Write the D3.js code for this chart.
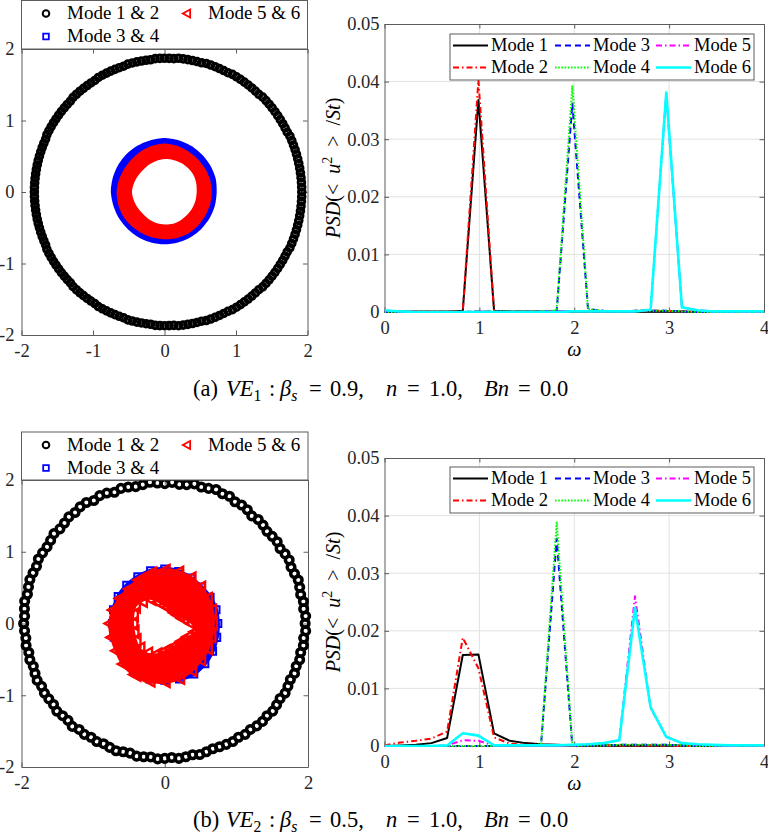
<!DOCTYPE html>
<html>
<head>
<meta charset="utf-8">
<script src="https://cdn.jsdelivr.net/npm/d3@7"></script>
<style>
    body { margin: 0; background: #fff; }
</style>
</head>
<body>
<svg id="fig" width="768" height="837" font-family="'Liberation Serif', 'Times New Roman', serif"></svg>
<script>
// ---- PSD data: omega grid and the six modes, panel (a) and (b)
const omega = [0, 0.165, 0.33, 0.495, 0.66, 0.825, 0.99, 1.155, 1.32, 1.485, 1.65, 1.815, 1.98,
    2.145, 2.31, 2.475, 2.64, 2.805, 2.97, 3.135, 3.3, 3.465, 3.63, 3.795, 3.96, 4.125];

const mode1a = [0.0001,0.0001,0.0001,0.0001,0.0001,0.0002,0.0368,0.0002,0.0001,0.0001,0.0001,0.0001,0.0001,0.0001,0.0001,0.0001,0.0001,0.0001,0.0001,0.0001,0,0,0,0,0,0];
const mode2a = [0.0001,0.0001,0.0001,0.0001,0.0001,0.0001,0.0403,0.0001,0.0001,0.0001,0.0001,0.0001,0.0001,0.0001,0.0001,0.0001,0.0002,0.0002,0.0002,0.0001,0,0,0,0,0,0];
const mode3a = [0,0,0,0,0,0,0.0001,0.0001,0.0001,0.0001,0.0001,0.0002,0.0362,0.0005,0.0002,0.0001,0.0002,0.0002,0.0002,0.0001,0,0,0,0,0,0];
const mode4a = [0,0,0,0,0,0,0.0001,0.0001,0.0001,0.0001,0.0001,0.0003,0.0392,0.0005,0.0002,0.0001,0.0002,0.0002,0.0002,0.0001,0,0,0,0,0,0];
const mode5a = [0.0002,0.0001,0,0,0,0,0.0001,0,0,0,0,0.0001,0.0002,0.0001,0.0001,0.0001,0.0001,0.0003,0.0378,0.0008,0.0003,0.0001,0.0001,0,0,0];
const mode6a = [0.0003,0.0001,0,0,0,0,0,0,0,0,0,0,0.0001,0.0001,0.0001,0.0001,0.0001,0.0004,0.0381,0.0008,0.0003,0.0001,0.0001,0.0001,0.0001,0.0001];

const mode1b = [0,0.0001,0.0002,0.0005,0.0014,0.0158,0.0159,0.0022,0.0009,0.0005,0.0003,0.0002,0.0001,0.0001,0.0001,0.0001,0.0001,0.0001,0.0001,0.0001,0,0,0,0,0,0];
const mode2b = [0.0001,0.0006,0.0009,0.0013,0.0025,0.0188,0.0135,0.0015,0.0004,0.0002,0.0002,0.0001,0.0001,0.0001,0.0001,0.0001,0.0001,0.0001,0.0001,0,0,0,0,0,0,0];
const mode3b = [0,0,0,0,0,0,0,0,0,0,0.0002,0.0360,0,0.0001,0.0001,0.0002,0.0002,0.0002,0.0002,0.0001,0,0,0,0,0,0];
const mode4b = [0,0,0,0,0,0,0,0,0,0,0.0003,0.0388,0,0.0001,0.0001,0.0002,0.0002,0.0002,0.0002,0.0001,0,0,0,0,0,0];
const mode5b = [0,0,0,0,0.0001,0.0010,0.0009,0.0001,0,0,0,0,0.0001,0.0003,0.0005,0.0010,0.0260,0.0066,0.0016,0.0005,0.0002,0.0001,0,0,0,0];
const mode6b = [0,0,0,0,0.0001,0.0022,0.0018,0.0001,0.0001,0.0001,0.0001,0.0001,0.0002,0.0003,0.0005,0.0010,0.0240,0.0067,0.0016,0.0005,0.0003,0.0002,0.0001,0.0001,0.0001,0.0001];

const modeNames = ['Mode 1', 'Mode 2', 'Mode 3', 'Mode 4', 'Mode 5', 'Mode 6'];
const pairNames = ['Mode 1 & 2', 'Mode 3 & 4', 'Mode 5 & 6'];

// ---- phase portraits: Mode 1 & 2 samples (phase in degrees, amplitude)
const ringPhaseA = [
    0,2,4,6,8,10,12,14,16,18,20,22,24,26,28,30,32,34,36,38,
    40,42,44,46,48,50,52,54,56,58,60,62,64,66,68,70,72,74,76,78,
    80,82,84,86,88,90,92,94,96,98,100,102,104,106,108,110,112,114,116,118,
    120,122,124,126,128,130,132,134,136,138,140,142,144,146,148,150,152,154,156,158,
    160,162,164,166,168,170,172,174,176,178,180,182,184,186,188,190,192,194,196,198,
    200,202,204,206,208,210,212,214,216,218,220,222,224,226,228,230,232,234,236,238,
    240,242,244,246,248,250,252,254,256,258,260,262,264,266,268,270,272,274,276,278,
    280,282,284,286,288,290,292,294,296,298,300,302,304,306,308,310,312,314,316,318,
    320,322,324,326,328,330,332,334,336,338,340,342,344,346,348,350,352,354,356,358];
const ringAmpA = [
    1.92,1.92,1.92,1.92,1.92,1.92,1.92,1.92,1.92,1.92,1.92,1.92,1.92,1.91,1.91,1.91,1.91,1.91,1.91,1.91,
    1.91,1.91,1.91,1.90,1.90,1.90,1.90,1.90,1.90,1.90,1.90,1.89,1.89,1.89,1.89,1.89,1.89,1.88,1.88,1.88,
    1.88,1.88,1.88,1.87,1.87,1.87,1.87,1.87,1.86,1.86,1.86,1.86,1.86,1.86,1.85,1.85,1.85,1.85,1.85,1.85,
    1.85,1.84,1.84,1.84,1.84,1.84,1.84,1.84,1.83,1.83,1.83,1.83,1.83,1.83,1.83,1.83,1.83,1.83,1.82,1.82,
    1.82,1.82,1.82,1.82,1.82,1.82,1.82,1.82,1.82,1.82,1.82,1.82,1.82,1.82,1.82,1.82,1.82,1.82,1.82,1.82,
    1.82,1.82,1.82,1.83,1.83,1.83,1.83,1.83,1.83,1.83,1.83,1.83,1.83,1.84,1.84,1.84,1.84,1.84,1.84,1.84,
    1.85,1.85,1.85,1.85,1.85,1.85,1.85,1.86,1.86,1.86,1.86,1.86,1.86,1.87,1.87,1.87,1.87,1.87,1.88,1.88,
    1.88,1.88,1.88,1.88,1.89,1.89,1.89,1.89,1.89,1.89,1.90,1.90,1.90,1.90,1.90,1.90,1.90,1.90,1.91,1.91,
    1.91,1.91,1.91,1.91,1.91,1.91,1.91,1.91,1.92,1.92,1.92,1.92,1.92,1.92,1.92,1.92,1.92,1.92,1.92,1.92];

const ringPhaseB = [
    0,3,6,9,12,15,18,21,24,27,30,33,36,39,42,45,48,51,54,57,
    60,63,66,69,72,75,78,81,84,87,90,93,96,99,102,105,108,111,114,117,
    120,123,126,129,132,135,138,141,144,147,150,153,156,159,162,165,168,171,174,177,
    180,183,186,189,192,195,198,201,204,207,210,213,216,219,222,225,228,231,234,237,
    240,243,246,249,252,255,258,261,264,267,270,273,276,279,282,285,288,291,294,297,
    300,303,306,309,312,315,318,321,324,327,330,333,336,339,342,345,348,351,354,357];
const ringAmpB = [
    1.96,1.97,1.95,1.96,1.94,1.95,1.96,1.94,1.93,1.95,1.94,1.92,1.94,1.93,1.92,1.94,1.95,1.93,1.96,1.97,
    1.96,1.99,1.98,2.00,1.98,1.97,1.99,1.96,1.95,1.97,1.95,1.96,1.98,1.96,1.95,1.97,1.98,1.96,1.99,2.00,
    1.98,2.01,2.01,1.99,2.00,1.98,1.97,1.99,1.97,1.96,1.97,1.98,1.96,1.97,1.98,1.97,1.96,1.98,1.97,1.96,
    1.97,1.96,1.95,1.96,1.94,1.95,1.93,1.94,1.95,1.93,1.94,1.93,1.92,1.94,1.92,1.91,1.93,1.90,1.91,1.89,
    1.90,1.88,1.89,1.90,1.88,1.87,1.89,1.88,1.87,1.89,1.88,1.87,1.89,1.88,1.87,1.89,1.88,1.87,1.88,1.89,
    1.90,1.89,1.91,1.90,1.92,1.93,1.92,1.94,1.93,1.92,1.94,1.93,1.92,1.94,1.93,1.95,1.94,1.96,1.95,1.97];

// Mode 3 & 4 and Mode 5 & 6 fill dense bands: inner/outer radius read every 15 degrees
const bandAngle = [0,15,30,45,60,75,90,105,120,135,150,165,180,195,210,225,240,255,270,285,300,315,330,345];
const blueOuterA = [0.73,0.74,0.74,0.74,0.745,0.75,0.755,0.75,0.75,0.75,0.75,0.75,0.75,0.74,0.735,0.73,0.73,0.73,0.73,0.73,0.73,0.73,0.73,0.73];
const blueInnerA = [0.55,0.55,0.55,0.55,0.55,0.55,0.55,0.55,0.55,0.55,0.55,0.55,0.55,0.55,0.55,0.55,0.55,0.55,0.55,0.55,0.55,0.55,0.55,0.55];
const redOuterA = [0.66,0.66,0.655,0.655,0.66,0.67,0.68,0.67,0.66,0.65,0.65,0.66,0.67,0.67,0.67,0.665,0.66,0.66,0.66,0.665,0.67,0.665,0.66,0.66];
const redInnerA = [0.45,0.46,0.47,0.47,0.47,0.465,0.46,0.45,0.44,0.43,0.435,0.445,0.455,0.445,0.435,0.43,0.44,0.45,0.455,0.46,0.455,0.45,0.45,0.45];

const blueOuterB = [0.77,0.77,0.76,0.75,0.76,0.78,0.79,0.79,0.78,0.78,0.78,0.77,0.76,0.76,0.76,0.78,0.82,0.83,0.82,0.83,0.84,0.82,0.80,0.78];
const blueInnerB = [0.5,0.5,0.5,0.5,0.5,0.5,0.5,0.5,0.5,0.5,0.5,0.5,0.5,0.5,0.5,0.5,0.5,0.5,0.5,0.5,0.5,0.5,0.5,0.5];
const redOuterB = [0.70,0.71,0.72,0.74,0.76,0.77,0.77,0.76,0.74,0.72,0.74,0.77,0.79,0.79,0.80,0.84,0.86,0.86,0.84,0.82,0.78,0.74,0.72,0.70];
const redInnerB = [0.36,0.25,0.21,0.19,0.20,0.21,0.23,0.29,0.38,0.43,0.46,0.44,0.43,0.43,0.45,0.48,0.47,0.43,0.37,0.34,0.33,0.33,0.36,0.43];

// ---- ticks
const scatterTicks = [-2, -1, 0, 1, 2];
const scatterTicksB = [-2, 0, 2];
const psdXTicks = [0, 1, 2, 3, 4];
const psdYTicks = [0, 0.01, 0.02, 0.03, 0.04, 0.05];

// ---- styles
const FONT = "'Liberation Serif', 'Times New Roman', serif";
const AX = '#262626';
const BOX = '#5c5c5c';
const GRID = '#e2e2e2';
const modeStyle = [
    {color: '#000000', dash: null, width: 2},
    {color: '#ff0000', dash: '6,3,1.5,3', width: 2},
    {color: '#0000ff', dash: '6,4', width: 2},
    {color: '#00ff00', dash: '1.6,1.6', width: 2},
    {color: '#ff00ff', dash: '6,3,1.5,3', width: 2},
    {color: '#00ffff', dash: null, width: 2.6}
];

const svg = d3.select('#fig');

// parts: [string, kind] where kind may contain i (italic), sub, sup; optional third entry = absolute x
function richText(g, parts, x, y, size, anchor, opts) {
    opts = opts || {};
    const t = g.append('text')
        .attr('x', x).attr('y', y)
        .attr('font-family', FONT)
        .attr('font-size', size)
        .attr('text-anchor', anchor || 'start')
        .attr('fill', '#000')
        .style('white-space', 'pre');
    if (opts.rotate) t.attr('transform', `rotate(${opts.rotate},${x},${y})`);
    let shift = 0;
    parts.forEach(([s, k, px]) => {
        k = k || '';
        const ts = t.append('tspan').text(s);
        if (px !== undefined) ts.attr('x', px);
        let target = 0;
        if (k.includes('i')) ts.attr('font-style', 'italic');
        if (k.includes('sub')) { target = size * 0.22; ts.attr('font-size', size * 0.7); }
        if (k.includes('sup')) { target = -size * 0.42; ts.attr('font-size', size * 0.7); }
        if (target !== shift) { ts.attr('dy', target - shift); shift = target; }
    });
    return t;
}

function drawBox(g, x, y, xTicks, yTicks, yFmt, pad) {
    const [xl, xr] = x.range();
    const [yb, yt] = y.range();
    const style = sel => {
        sel.attr('font-family', FONT).attr('font-size', 18.5);
        sel.selectAll('.domain, .tick line').attr('stroke', BOX);
        sel.selectAll('text').attr('fill', AX);
    };
    g.append('g').attr('transform', `translate(0,${yb})`)
        .call(d3.axisBottom(x).tickValues(xTicks).tickSize(-4.5).tickSizeOuter(0).tickPadding(9).tickFormat(d => String(d)))
        .call(style);
    g.append('g').attr('transform', `translate(0,${yt})`)
        .call(d3.axisTop(x).tickValues(xTicks).tickSize(-4.5).tickSizeOuter(0).tickFormat(''))
        .call(style);
    g.append('g').attr('transform', `translate(${xl},0)`)
        .call(d3.axisLeft(y).tickValues(yTicks).tickSize(-4.5).tickSizeOuter(0).tickPadding(pad).tickFormat(yFmt))
        .call(style);
    g.append('g').attr('transform', `translate(${xr},0)`)
        .call(d3.axisRight(y).tickValues(yTicks).tickSize(-4.5).tickSizeOuter(0).tickFormat(''))
        .call(style);
}

const triPath = s => `M${-s},0L${s * 0.75},${-s * 0.95}L${s * 0.75},${s * 0.95}Z`;
const sqPath = s => `M${-s},${-s}h${2 * s}v${2 * s}h${-2 * s}Z`;

function drawScatter(p) {
    const x = d3.scaleLinear().domain([-2, 2]).range([p.left, p.right]);
    const y = d3.scaleLinear().domain([-2, 2]).range([p.bottom, p.top]);
    const g = svg.append('g');
    const pt = (r, a) => [x(r * Math.cos(a * Math.PI / 180)), y(r * Math.sin(a * Math.PI / 180))];
    const loop = d3.line().curve(d3.curveCardinalClosed.tension(0.2));

    drawBox(g, x, y, p.xTicks, scatterTicks, d => String(d), 7);

    // Mode 1 & 2: open circles
    g.append('g').selectAll('circle')
        .data(p.ringPhase)
        .join('circle')
        .attr('cx', (d, i) => pt(p.ringAmp[i], d)[0])
        .attr('cy', (d, i) => pt(p.ringAmp[i], d)[1])
        .attr('r', p.circleR)
        .attr('fill', 'none')
        .attr('stroke', '#000')
        .attr('stroke-width', p.circleW);

    // dense bands of squares (blue) and triangles (red)
    const band = (inner, outer, color) => {
        const o = outer.map((r, i) => pt(r, bandAngle[i]));
        const n = inner.map((r, i) => pt(r, bandAngle[i]));
        g.append('path')
            .attr('d', loop(o) + loop(n))
            .attr('fill', color)
            .attr('fill-rule', 'evenodd');
    };
    band(p.blueInner, p.blueOuter, '#0000ff');
    if (p.edge) {
        g.append('g').selectAll('path')
            .data(p.blueOuter)
            .join('path')
            .attr('transform', (d, i) => `translate(${pt(d - 0.03, bandAngle[i])})`)
            .attr('d', sqPath(p.edge * 0.55))
            .attr('fill', 'none').attr('stroke', '#0000ff').attr('stroke-width', 2);
    }
    band(p.redInner, p.redOuter, '#ff0000');
    if (p.edge) {
        // triangles sitting on both edges of the red band make them ragged
        const edgePts = p.redOuter.map((r, i) => pt(r - 0.04, bandAngle[i]))
            .concat(p.redInner.map((r, i) => pt(r + 0.02, bandAngle[i])));
        g.append('g').selectAll('path')
            .data(edgePts)
            .join('path')
            .attr('transform', d => `translate(${d})`)
            .attr('d', triPath(p.edge))
            .attr('fill', 'none').attr('stroke', '#ff0000').attr('stroke-width', 2.4);
    }

    // legend
    const L = p.legend;
    g.append('rect')
        .attr('x', L.x0).attr('y', L.y0)
        .attr('width', L.x1 - L.x0).attr('height', L.y1 - L.y0)
        .attr('fill', '#fff').attr('stroke', BOX).attr('stroke-width', 1);
    const slots = [[46, 67, 0], [46, 67, 1], [187, 208, 0]];
    pairNames.forEach((name, i) => {
        const [mx, tx, row] = slots[i];
        const my = L.y0 + 13 + row * 23;
        if (i === 0) {
            g.append('circle').attr('cx', mx).attr('cy', my).attr('r', 3.3)
                .attr('fill', 'none').attr('stroke', '#000').attr('stroke-width', 2);
        } else if (i === 1) {
            g.append('path').attr('transform', `translate(${mx},${my})`).attr('d', sqPath(2.8))
                .attr('fill', 'none').attr('stroke', '#0000ff').attr('stroke-width', 1.8);
        } else {
            g.append('path').attr('transform', `translate(${mx},${my})`).attr('d', triPath(4.2))
                .attr('fill', 'none').attr('stroke', '#ff0000').attr('stroke-width', 1.8);
        }
        g.append('text').attr('x', tx).attr('y', L.y0 + 18.5 + row * 23.2)
            .attr('font-family', FONT)
            .attr('font-size', 19).attr('fill', '#000').text(name);
    });
}

function drawPsd(p) {
    const x = d3.scaleLinear().domain([0, 4]).range([p.left, p.right]);
    const y = d3.scaleLinear().domain([0, 0.05]).range([p.bottom, p.top]);
    const g = svg.append('g');

    // grid
    g.append('g').selectAll('line')
        .data(psdXTicks.slice(1, -1))
        .join('line')
        .attr('x1', d => x(d)).attr('x2', d => x(d))
        .attr('y1', p.top).attr('y2', p.bottom)
        .attr('stroke', GRID);
    g.append('g').selectAll('line')
        .data(psdYTicks.slice(1, -1))
        .join('line')
        .attr('y1', d => y(d)).attr('y2', d => y(d))
        .attr('x1', p.left).attr('x2', p.right)
        .attr('stroke', GRID);

    drawBox(g, x, y, psdXTicks, psdYTicks, d => d === 0 ? '0' : d.toFixed(2), 5);

    const clipId = 'clip' + p.id;
    svg.append('clipPath').attr('id', clipId).append('rect')
        .attr('x', p.left).attr('y', p.top)
        .attr('width', p.right - p.left).attr('height', p.bottom - p.top + 1);

    const line = d3.line().x((d, i) => x(omega[i])).y(d => y(d));
    p.series.forEach((s, k) => {
        const st = modeStyle[k];
        g.append('path')
            .attr('d', line(s))
            .attr('clip-path', `url(#${clipId})`)
            .attr('fill', 'none')
            .attr('stroke', st.color)
            .attr('stroke-width', st.width)
            .attr('stroke-dasharray', st.dash)
            .attr('stroke-linejoin', 'round');
    });

    // legend: column-major, 3 columns x 2 rows
    const L = p.legend;
    g.append('rect')
        .attr('x', L.x0).attr('y', L.y0)
        .attr('width', L.x1 - L.x0).attr('height', L.y1 - L.y0)
        .attr('fill', '#fff').attr('stroke', BOX).attr('stroke-width', 1);
    const colX = [453, 555, 656];
    modeNames.forEach((name, k) => {
        const col = Math.floor(k / 2), row = k % 2;
        const st = modeStyle[k];
        const ly = L.y0 + 11.5 + row * 22;
        g.append('line')
            .attr('x1', colX[col]).attr('x2', colX[col] + 35)
            .attr('y1', ly).attr('y2', ly)
            .attr('stroke', st.color).attr('stroke-width', st.width)
            .attr('stroke-dasharray', st.dash);
        g.append('text').attr('x', colX[col] + 38).attr('y', L.y0 + 17 + row * 22)
            .attr('font-family', FONT)
            .attr('font-size', 18.5).attr('fill', '#000').text(name);
    });

    // axis labels
    richText(g, [['ω', 'i']], x(2), p.bottom + 44, 20, 'middle');
    richText(g, [['PSD', 'i'], ['(<  ', ''], ['u', 'i'], ['2', 'sup'], ['  >  /', ''], ['St', 'i'], [')', '']],
        340, (p.top + p.bottom) / 2, 20, 'middle', {rotate: -90});
}

// ---- panels
drawScatter({
    left: 21.5, right: 307.5, top: 49, bottom: 335,
    xTicks: scatterTicks,
    ringPhase: ringPhaseA, ringAmp: ringAmpA, circleR: 3.3, circleW: 3,
    blueOuter: blueOuterA, blueInner: blueInnerA, redOuter: redOuterA, redInner: redInnerA,
    edge: 0,
    legend: {x0: 21.5, x1: 307.5, y0: 0.5, y1: 49}
});
drawPsd({
    id: 'a', left: 384.5, right: 764, top: 24, bottom: 312,
    series: [mode1a, mode2a, mode3a, mode4a, mode5a, mode6a],
    legend: {x0: 450, x1: 754, y0: 34, y1: 80}
});
drawScatter({
    left: 21.5, right: 308, top: 480, bottom: 767,
    xTicks: scatterTicksB,
    ringPhase: ringPhaseB, ringAmp: ringAmpB, circleR: 3.8, circleW: 3.5,
    blueOuter: blueOuterB, blueInner: blueInnerB, redOuter: redOuterB, redInner: redInnerB,
    edge: 6.5,
    legend: {x0: 21.5, x1: 308, y0: 432, y1: 480}
});
drawPsd({
    id: 'b', left: 384.5, right: 764, top: 458, bottom: 746,
    series: [mode1b, mode2b, mode3b, mode4b, mode5b, mode6b],
    legend: {x0: 450, x1: 754, y0: 467, y1: 513}
});

// ---- captions (pieces placed where they sit in the figure)
const cap = svg.append('g');
const caption = (tag, sub, beta, y) => richText(cap, [
    [tag, '', 193], ['VE', 'i', 226], [sub, 'sub'], [':', '', 269], ['β', 'i', 280], ['s', 'isub'],
    ['=', '', 309], [beta + ',', '', 330], ['n', 'i', 386], ['=', '', 407], ['1.0,', '', 429],
    ['Bn', 'i', 484], ['=', '', 518], ['0.0', '', 540]], 193, y, 22.5, 'start');
caption('(a)', '1', '0.9', 396);
caption('(b)', '2', '0.5', 827);
</script>
</body>
</html>
